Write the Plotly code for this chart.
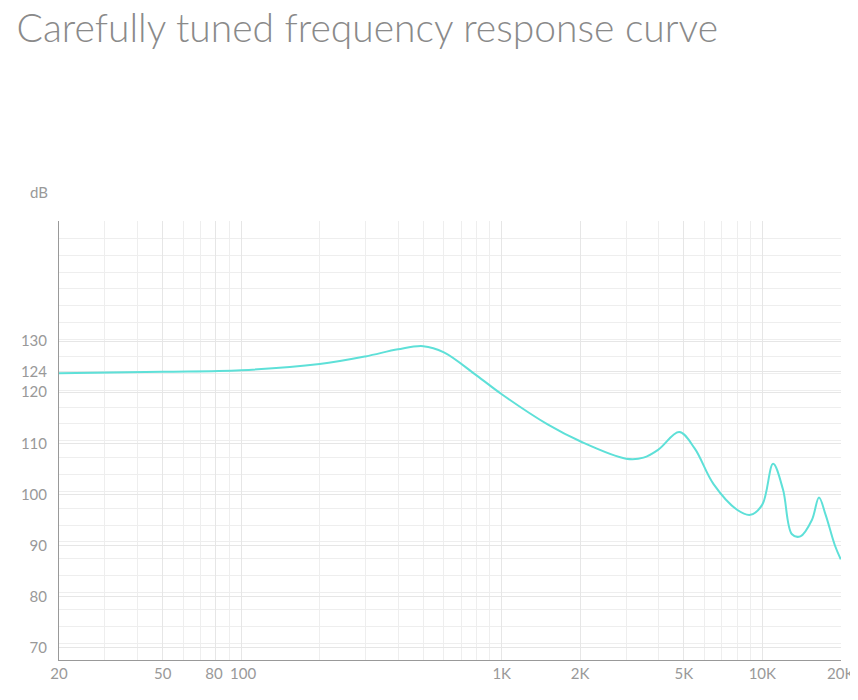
import plotly.graph_objects as go

# frequency response (Hz, dB)
freq = [20, 50, 100, 200, 300, 400, 500, 600, 800, 1000, 1500, 2000, 3000, 3500,
        4000, 4800, 5500, 6500, 8000, 9000, 10000, 11000, 12000, 13000, 14000,
        15500, 16500, 17500, 19000, 20000]
db = [123.7, 124.0, 124.3, 125.5, 127.0, 128.4, 129.0, 127.8, 123.3, 119.6, 113.7,
      110.4, 107.0, 107.2, 108.8, 112.2, 109.0, 102.0, 97.0, 96.0, 98.0, 106.0,
      101.0, 92.2, 91.8, 95.0, 99.4, 96.0, 90.0, 87.3]

xtick_vals = [20, 50, 80, 100, 1000, 2000, 5000, 10000, 20000]
xtick_text = ["20", "50", "80 ", " 100", "1K", "2K", "5K", "10K", "20K"]
ytick_vals = [70, 80, 90, 100, 110, 120, 124, 130]

fig = go.Figure()
fig.add_trace(go.Scatter(x=freq, y=db, mode="lines",
                         line=dict(color="#5ee0d8", width=2, shape="spline", smoothing=1.0),
                         hoverinfo="skip"))

fig.update_layout(
    width=858, height=700,
    paper_bgcolor="white", plot_bgcolor="white",
    margin=dict(l=51, r=25, t=213, b=48),
    showlegend=False,
    font=dict(family="Lato", color="#999999", size=15),
    title=dict(text="Carefully tuned frequency response curve", x=0.01, xanchor="left",
               y=0.99, yanchor="top", font=dict(family="Lato", size=39, color="#8a8a8a", weight=300)),
    annotations=[dict(text="dB", xref="paper", yref="paper", x=-0.04, y=1.04,
                      xanchor="left", yanchor="bottom", showarrow=False,
                      font=dict(size=15, color="#999999"))],
)
fig.update_xaxes(type="log", range=[1.301, 4.302], tickvals=xtick_vals, ticktext=xtick_text,
                 tickangle=0, automargin=False,
                 showgrid=True, gridcolor="#e6e6e6", gridwidth=1,
                 minor=dict(showgrid=True, gridcolor="#eeeeee", dtick="D1"),
                 showline=True, linecolor="#999999", linewidth=1, ticks="", zeroline=False)
fig.update_yaxes(range=[67.6, 153.5], tickvals=ytick_vals, showgrid=True, automargin=False,
                 gridcolor="#e6e6e6", minor=dict(showgrid=True, gridcolor="#eeeeee", dtick=3.3, tick0=67.6),
                 showline=True, linecolor="#999999", linewidth=1, ticks="", zeroline=False,
                 ticklabelstandoff=8)

fig.write_html("out.html")
